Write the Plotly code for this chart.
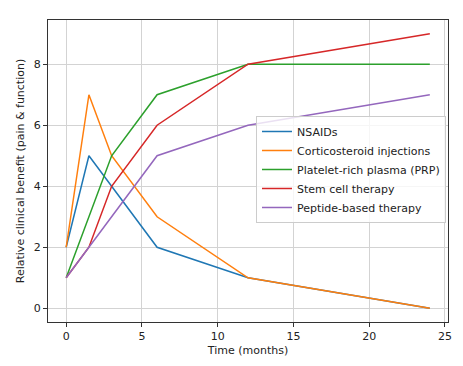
import plotly.graph_objects as go

months = [0, 1.5, 3, 6, 12, 24]
nsaids = [2, 5, 4, 2, 1, 0]
cortico = [2, 7, 5, 3, 1, 0]
prp = [1, 3, 5, 7, 8, 8]
stem = [1, 2, 4, 6, 8, 9]
peptide = [1, 2, 3, 5, 6, 7]

series = [
    ("NSAIDs", nsaids, "#1f77b4"),
    ("Corticosteroid injections", cortico, "#ff7f0e"),
    ("Platelet-rich plasma (PRP)", prp, "#2ca02c"),
    ("Stem cell therapy", stem, "#d62728"),
    ("Peptide-based therapy", peptide, "#9467bd"),
]

fig = go.Figure()
for name, vals, col in series:
    fig.add_trace(go.Scatter(x=months, y=vals, mode="lines", name=name,
                             line=dict(color=col, width=1.5)))

font = dict(family="DejaVu Sans", size=11, color="#222222")
axis_common = dict(showline=True, mirror=True, linecolor="#333333", linewidth=1,
                   ticks="outside", ticklen=4, tickcolor="#333333",
                   showgrid=True, gridcolor="#d3d3d3", gridwidth=1,
                   zeroline=False, tickfont=font, title_font=font)

fig.update_layout(
    width=455, height=358,
    margin=dict(l=40, r=12, t=11, b=43),
    paper_bgcolor="white", plot_bgcolor="white",
    font=font,
    xaxis=dict(range=[-1.2, 25.2], tickvals=[0, 5, 10, 15, 20, 25],
               title=dict(text="Time (months)", standoff=4), **axis_common),
    yaxis=dict(range=[-0.45, 9.45], tickvals=[0, 2, 4, 6, 8],
               title=dict(text="Relative clinical benefit (pain & function)", standoff=6),
               **axis_common),
    legend=dict(x=0.995, y=0.505, xanchor="right", yanchor="middle",
                bgcolor="rgba(255,255,255,0.8)", bordercolor="#cccccc", borderwidth=1,
                font=font, tracegroupgap=0, itemwidth=30),
    showlegend=True,
)

fig.write_html("out.html")
